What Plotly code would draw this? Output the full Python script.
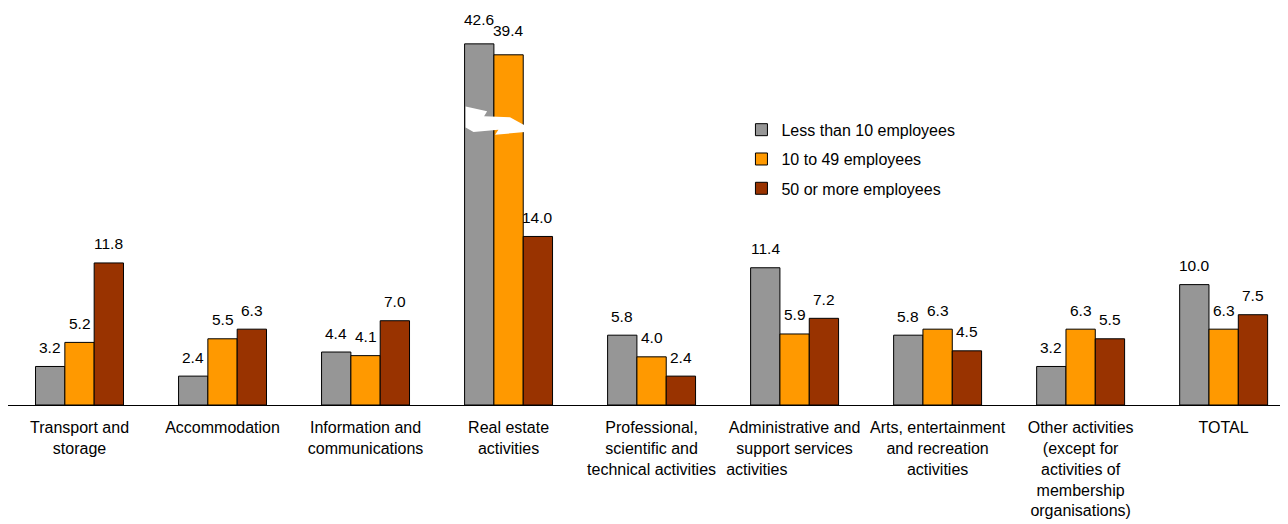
import plotly.graph_objects as go

categories = [
    "Transport and<br>storage",
    "Accommodation",
    "Information and<br>communications",
    "Real estate<br>activities",
    "Professional,<br>scientific and<br>technical activities",
    "Administrative and<br>support services<br>activities" + "\u00a0" * 17,
    "Arts, entertainment<br>and recreation<br>activities",
    "Other activities<br>(except for<br>activities of<br>membership<br>organisations)",
    "TOTAL",
]
series_names = ["Less than 10 employees", "10 to 49 employees", "50 or more employees"]
less_than_10 = [3.2, 2.4, 4.4, 42.6, 5.8, 11.4, 5.8, 3.2, 10.0]
from_10_to_49 = [5.2, 5.5, 4.1, 39.4, 4.0, 5.9, 6.3, 6.3, 6.3]
fifty_or_more = [11.8, 6.3, 7.0, 14.0, 2.4, 7.2, 4.5, 5.5, 7.5]
colors = ["#969696", "#FF9900", "#993300"]

# broken axis: values above BREAK_AT are compressed
BREAK_AT = 25.0
COMPRESS = 0.284


def shown(v):
    return v if v <= BREAK_AT else BREAK_AT + (v - BREAK_AT) * COMPRESS


BARGAP = 0.385
bar_w = (1 - BARGAP) / 3
offsets = [-bar_w, 0.0, bar_w]

fig = go.Figure()
all_series = [less_than_10, from_10_to_49, fifty_or_more]
xs = list(range(len(categories)))
for name, vals, col in zip(series_names, all_series, colors):
    fig.add_trace(go.Bar(
        x=xs, y=[shown(v) for v in vals], name=name, legendgroup=name,
        marker=dict(color=col, line=dict(color="#000000", width=1)),
        hoverinfo="skip",
    ))

annotations = []
for vals, off in zip(all_series, offsets):
    for i, v in enumerate(vals):
        annotations.append(dict(
            x=i + off, y=shown(v), text=f"{v:.1f}", showarrow=False,
            yanchor="middle", xanchor="center",
            yshift=24 if v > BREAK_AT else 19,
            font=dict(size=15.5, color="#000000"),
        ))

# break symbol (white lightning) across the broken bars
bi = less_than_10.index(max(less_than_10))
bolt = [(-0.300, 24.80), (-0.150, 24.40), (-0.171, 23.98), (0.010, 23.90),
        (0.115, 23.22), (0.115, 22.67), (-0.094, 22.45), (-0.071, 22.86),
        (-0.245, 22.67), (-0.300, 23.05)]
path = "M " + " L ".join(f"{bi + dx:.4f},{y:.3f}" for dx, y in bolt) + " Z"
shapes = [dict(type="path", path=path, xref="x", yref="y",
               fillcolor="#FFFFFF", line=dict(width=0), layer="above")]

fig.update_layout(
    width=1280, height=516,
    margin=dict(l=0, r=0, t=12, b=118.5),
    paper_bgcolor="#FFFFFF", plot_bgcolor="#FFFFFF",
    barmode="group", bargap=BARGAP, bargroupgap=0,
    font=dict(family="Liberation Sans, Arial, sans-serif", size=16, color="#000000"),
    showlegend=True,
    legend=dict(x=0.573, y=0.759, xanchor="left", yanchor="top",
                traceorder="grouped", tracegroupgap=5.5,
                font=dict(size=16), bgcolor="rgba(0,0,0,0)"),
    annotations=annotations,
    shapes=shapes,
    xaxis=dict(
        tickmode="array", tickvals=xs, ticktext=categories,
        range=[-0.5, 8.45], showgrid=False, zeroline=False,
        showline=True, linecolor="#000000", linewidth=1,
        ticks="", ticklabelstandoff=8, tickangle=0,
        tickfont=dict(size=16),
    ),
    yaxis=dict(range=[0, 31.98], visible=False, showgrid=False, zeroline=False),
)

fig.write_html("out.html")
